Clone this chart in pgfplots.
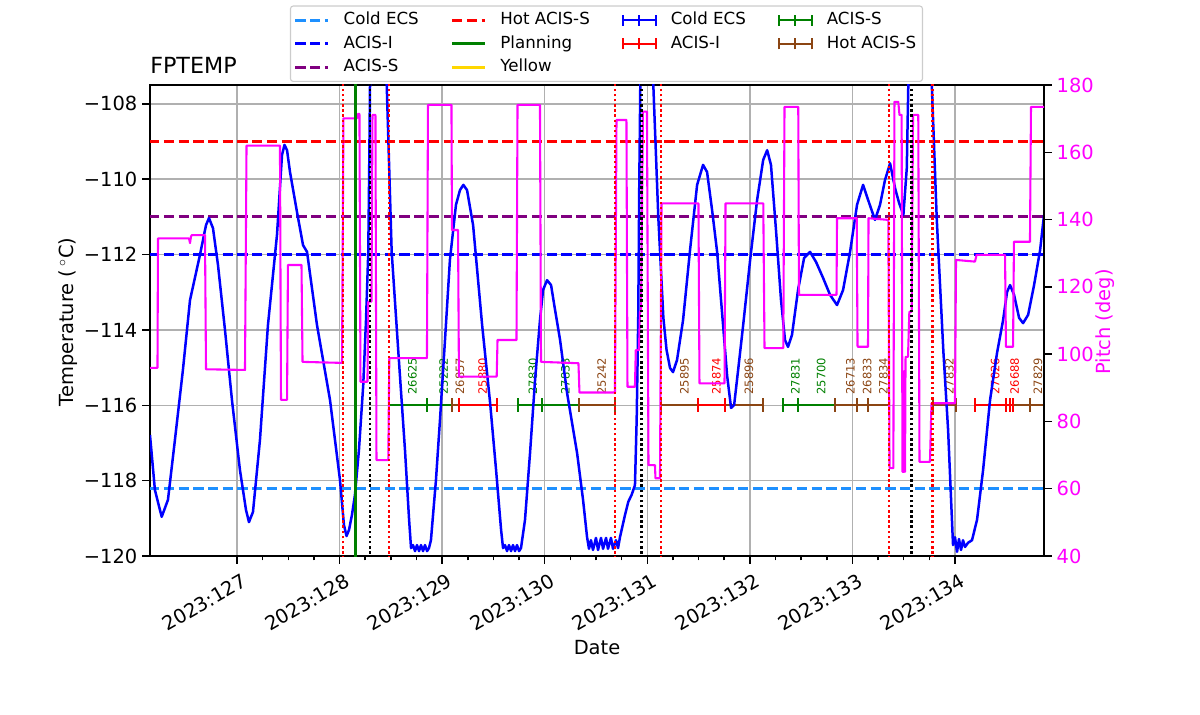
\documentclass[border=0pt]{standalone}
\usepackage{fontspec}
\setmainfont{DejaVu Sans}
\usepackage{pgfplots}
\pgfplotsset{compat=1.18}
\definecolor{dodger}{HTML}{1E90FF}
\definecolor{mplgreen}{HTML}{008000}
\definecolor{mplpurple}{HTML}{800080}
\definecolor{mplmagenta}{HTML}{FF00FF}
\definecolor{saddle}{HTML}{8B4513}
\definecolor{gold}{HTML}{FFD700}
\definecolor{gridgray}{HTML}{B0B0B0}
\definecolor{legframe}{HTML}{CCCCCC}
\pgfplotsset{
 lineleg/.style={legend image code/.code={\draw[##1] (0pt,0pt) -- (23.8pt,0pt);}},
 errleg/.style={legend image code/.code={\draw[##1] (0pt,0pt) -- (23.8pt,0pt); \draw[##1] (0pt,-4pt) -- (0pt,4pt); \draw[##1] (11.9pt,-4pt) -- (11.9pt,4pt); \draw[##1] (23.8pt,-4pt) -- (23.8pt,4pt);}},
 limdash/.style={line width=2pt, dash pattern=on 7.4pt off 3.2pt},
 vdot/.style={line width=1.8pt, dash pattern=on 1.8pt off 1.9pt},
 seg/.style={line width=1.5pt, mark=|, mark size=5pt, mark options={solid, line width=1.5pt}},
}
\tikzset{obs/.style={rotate=90, anchor=north west, inner sep=0pt, font=\fontsize{8.3}{10}\selectfont}}
\begin{document}
\begin{tikzpicture}
\path[use as bounding box] (0,0) rectangle (864pt,514.08pt);
\begin{axis}[
 name=main,
 at={(108pt,113.76pt)}, anchor=south west,
 width=643.68pt, height=339.12pt, scale only axis,
 xmin=126.152, xmax=134.868, ymin=-120, ymax=-107.5,
 xtick={127,128,129,130,131,132,133,134},
 xticklabels={2023:127,2023:128,2023:129,2023:130,2023:131,2023:132,2023:133,2023:134},
 minor x tick num=3,
 ytick={-120,-118,-116,-114,-112,-110,-108},
 yticklabels={−120,−118,−116,−114,−112,−110,−108},
 xtick pos=left, ytick pos=left,
 tick align=outside, major tick length=5.6pt, minor tick length=3.2pt,
 tick style={black, line width=1.1pt},
 axis line style={line width=1.1pt},
 grid=major, grid style={gridgray, line width=1.1pt},
 tick label style={font=\fontsize{14}{17}\selectfont},
 xticklabel style={rotate=30, anchor=north east, inner sep=2pt, xshift=1.5pt, yshift=-5pt},
 label style={font=\fontsize{14}{17}\selectfont},
 xlabel={Date}, xlabel style={at={(axis description cs:0.5,-0.195)}, anchor=center},
 ylabel={Temperature (\,$^\circ$C)}, ylabel style={at={(axis description cs:-0.0917,0.497)}, anchor=center},
 title={FPTEMP}, title style={at={(0,1)}, anchor=base west, inner sep=0pt, yshift=2.6pt, font=\fontsize{16}{19}\selectfont},
 legend columns=4,
 legend style={at={(0.5106,1.0064)}, anchor=south, draw=legframe, line width=0.8pt, rounded corners=2pt,
   font=\fontsize{12}{14}\selectfont, inner xsep=2.5pt, inner ysep=1.8pt, row sep=0pt,
   nodes={inner xsep=2pt, inner ysep=2.7pt, text height=9pt, text depth=2.5pt},
   /tikz/every odd column/.append style={column sep=8pt},
   /tikz/every even column/.append style={column sep=21pt}},
 legend cell align=left,
]
% legend (row-major order of a 4-column legend)
\addlegendimage{lineleg, dodger, limdash}\addlegendentry{Cold ECS}
\addlegendimage{lineleg, red, limdash}\addlegendentry{Hot ACIS-S}
\addlegendimage{errleg, blue, line width=1.5pt}\addlegendentry{Cold ECS}
\addlegendimage{errleg, mplgreen, line width=1.5pt}\addlegendentry{ACIS-S}
\addlegendimage{lineleg, blue, limdash}\addlegendentry{ACIS-I}
\addlegendimage{lineleg, mplgreen, line width=2pt}\addlegendentry{Planning}
\addlegendimage{errleg, red, line width=1.5pt}\addlegendentry{ACIS-I}
\addlegendimage{errleg, saddle, line width=1.5pt}\addlegendentry{Hot ACIS-S}
\addlegendimage{lineleg, mplpurple, limdash}\addlegendentry{ACIS-S}
\addlegendimage{lineleg, gold, line width=2pt}\addlegendentry{Yellow}
\addlegendimage{empty legend}\addlegendentry{}
\addlegendimage{empty legend}\addlegendentry{}

% limit lines
\addplot[forget plot, dodger, limdash] coordinates {(126,-118.2) (135,-118.2)};
\addplot[forget plot, blue, limdash] coordinates {(126,-112.0) (135,-112.0)};
\addplot[forget plot, mplpurple, limdash] coordinates {(126,-111.0) (135,-111.0)};
\addplot[forget plot, red, limdash] coordinates {(126,-109.0) (135,-109.0)};

% obsid intervals
\addplot[forget plot, mplgreen, seg, unbounded coords=jump] coordinates {
 (128.482,-116) (128.849,-116) (nan,nan)
 (128.849,-116) (129.093,-116) (nan,nan)
 (129.743,-116) (129.977,-116) (nan,nan)
 (129.977,-116) (130.337,-116) (nan,nan)
 (132.326,-116) (132.472,-116) (nan,nan)
 (132.472,-116) (132.830,-116)};
\addplot[forget plot, saddle, seg, unbounded coords=jump] coordinates {
 (129.093,-116) (129.164,-116) (nan,nan)
 (130.337,-116) (130.685,-116) (nan,nan)
 (131.134,-116) (131.497,-116) (nan,nan)
 (131.758,-116) (132.131,-116) (nan,nan)
 (132.830,-116) (133.042,-116) (nan,nan)
 (133.042,-116) (133.155,-116) (nan,nan)
 (133.155,-116) (133.357,-116) (nan,nan)
 (133.789,-116) (134.010,-116) (nan,nan)
 (134.568,-116) (134.731,-116) (nan,nan)
 (134.731,-116) (134.926,-116)};
\addplot[forget plot, red, seg, unbounded coords=jump] coordinates {
 (129.164,-116) (129.537,-116) (nan,nan)
 (131.497,-116) (131.758,-116) (nan,nan)
 (134.195,-116) (134.497,-116) (nan,nan)
 (134.497,-116) (134.536,-116) (nan,nan)
 (134.536,-116) (134.568,-116)};

\node[obs, mplgreen] at (axis cs:128.666,-115.72) {26625};
\node[obs, mplgreen] at (axis cs:128.971,-115.72) {25222};
\node[obs, saddle] at (axis cs:129.129,-115.72) {26857};
\node[obs, red] at (axis cs:129.351,-115.72) {25880};
\node[obs, mplgreen] at (axis cs:129.840,-115.72) {27830};
\node[obs, mplgreen] at (axis cs:130.157,-115.72) {27833};
\node[obs, saddle] at (axis cs:130.511,-115.72) {25242};
\node[obs, saddle] at (axis cs:131.316,-115.72) {25895};
\node[obs, red] at (axis cs:131.628,-115.72) {25874};
\node[obs, saddle] at (axis cs:131.945,-115.72) {25896};
\node[obs, mplgreen] at (axis cs:132.399,-115.72) {27831};
\node[obs, mplgreen] at (axis cs:132.651,-115.72) {25700};
\node[obs, saddle] at (axis cs:132.936,-115.72) {26713};
\node[obs, saddle] at (axis cs:133.099,-115.72) {26833};
\node[obs, saddle] at (axis cs:133.256,-115.72) {27834};
\node[obs, saddle] at (axis cs:133.900,-115.72) {27832};
\node[obs, red] at (axis cs:134.346,-115.72) {27026};
\node[obs, red] at (axis cs:134.536,-115.72) {26688};
\node[obs, saddle] at (axis cs:134.763,-115.72) {27829};

% temperature
\addplot[forget plot, blue, line width=1.8pt, line join=round] coordinates {
(126.152,-116.79) (126.200,-118.25) (126.266,-118.96) (126.327,-118.51) (126.395,-116.92)
(126.473,-115.06) (126.542,-113.21) (126.639,-112.01) (126.698,-111.22) (126.727,-111.03)
(126.766,-111.30) (126.815,-112.28) (126.883,-114.00) (126.951,-115.86) (127.029,-117.72)
(127.088,-118.78) (127.117,-119.10) (127.156,-118.83) (127.224,-116.92) (127.302,-113.87)
(127.390,-111.48) (127.439,-109.36) (127.463,-109.09) (127.488,-109.23) (127.517,-109.81)
(127.585,-110.87) (127.644,-111.75) (127.683,-111.93) (127.780,-113.87) (127.907,-115.86)
(128.004,-117.98) (128.043,-119.18) (128.068,-119.47) (128.092,-119.31) (128.121,-118.91)
(128.150,-118.38) (128.189,-117.19) (128.231,-115.46) (128.258,-113.74) (128.280,-111.93)
(128.290,-109.49) (128.297,-107.5) (128.307,-106.8) (128.443,-106.8) (128.460,-107.5)
(128.508,-111.92) (128.573,-114.58) (128.638,-117.19) (128.678,-119.04) (128.697,-119.79)
(128.716,-119.71) (128.736,-119.87) (128.755,-119.71) (128.775,-119.87) (128.794,-119.71)
(128.814,-119.87) (128.833,-119.71) (128.853,-119.87) (128.872,-119.79)
(128.891,-119.58) (128.940,-117.98) (128.979,-116.39) (129.028,-114.27) (129.076,-112.14)
(129.135,-110.68) (129.174,-110.29) (129.207,-110.15) (129.243,-110.29) (129.302,-111.22)
(129.390,-113.87) (129.468,-115.94) (129.526,-117.72) (129.575,-119.31) (129.594,-119.79)
(129.613,-119.71) (129.633,-119.87) (129.652,-119.71) (129.672,-119.87) (129.691,-119.71)
(129.711,-119.87) (129.730,-119.71) (129.750,-119.87) (129.769,-119.79)
(129.808,-119.04) (129.857,-117.27) (129.906,-115.33) (129.954,-113.74) (129.984,-112.94)
(130.023,-112.68) (130.062,-112.81) (130.101,-113.47) (130.150,-114.27) (130.218,-115.67)
(130.316,-117.27) (130.374,-118.51) (130.413,-119.50)
(130.432,-119.81) (130.451,-119.58) (130.471,-119.84) (130.500,-119.52) (130.520,-119.84)
(130.549,-119.52) (130.569,-119.81) (130.598,-119.52) (130.617,-119.81) (130.646,-119.52)
(130.666,-119.81) (130.695,-119.58) (130.715,-119.79) (130.734,-119.50)
(130.783,-118.91) (130.815,-118.56) (130.847,-118.38) (130.880,-118.12) (130.897,-116.34)
(130.912,-113.68) (130.922,-110.15) (130.932,-107.5) (130.939,-106.8) (131.036,-106.8)
(131.059,-107.5) (131.108,-111.03) (131.157,-113.68) (131.188,-114.53) (131.222,-115.01)
(131.251,-115.12) (131.290,-114.80) (131.349,-113.74) (131.417,-111.88) (131.486,-110.15)
(131.544,-109.62) (131.583,-109.81) (131.632,-110.82) (131.681,-111.93) (131.739,-113.87)
(131.778,-115.20) (131.817,-116.07) (131.847,-115.99) (131.886,-115.06) (131.935,-113.87)
(132.003,-112.14) (132.071,-110.55) (132.130,-109.49) (132.169,-109.23) (132.206,-109.62)
(132.255,-111.35) (132.304,-113.21) (132.343,-114.27) (132.372,-114.45) (132.411,-114.13)
(132.470,-112.94) (132.529,-112.09) (132.587,-111.93) (132.646,-112.20) (132.714,-112.62)
(132.782,-113.07) (132.850,-113.34) (132.909,-112.94) (132.977,-111.93) (133.045,-110.68)
(133.104,-110.15) (133.153,-110.55) (133.220,-111.08) (133.269,-110.68) (133.318,-110.02)
(133.367,-109.58) (133.416,-110.24) (133.455,-110.63) (133.497,-110.95) (133.530,-109.71)
(133.545,-107.5) (133.552,-106.8) (133.757,-106.8) (133.774,-107.5) (133.822,-111.04)
(133.887,-114.58) (133.933,-116.66) (133.962,-118.51) (133.981,-119.71)
(134.000,-119.50) (134.020,-119.89) (134.039,-119.55) (134.059,-119.84) (134.078,-119.58)
(134.098,-119.76) (134.127,-119.65)
(134.166,-119.58) (134.215,-119.04) (134.274,-117.72) (134.342,-115.86) (134.410,-114.61)
(134.469,-113.74) (134.508,-112.99) (134.537,-112.81) (134.576,-113.07) (134.625,-113.68)
(134.664,-113.82) (134.713,-113.60) (134.771,-112.81) (134.830,-111.88) (134.868,-110.95)
};
\end{axis}

\begin{axis}[
 at={(108pt,113.76pt)}, anchor=south west,
 width=643.68pt, height=339.12pt, scale only axis,
 xmin=126.152, xmax=134.868, ymin=40, ymax=180,
 axis x line=none, axis y line*=right,
 ytick={40,60,80,100,120,140,160,180},
 yticklabels={40,60,80,100,120,140,160,180},
 tick align=outside, major tick length=5.6pt,
 tick style={black, line width=1.1pt},
 axis line style={line width=1.1pt},
 yticklabel style={mplmagenta, font=\fontsize{14}{17}\selectfont},
 ylabel={Pitch (deg)},
 ylabel style={mplmagenta, font=\fontsize{14}{17}\selectfont, at={(axis description cs:1.068,0.497)}, anchor=center},
]
\addplot[mplmagenta, line width=1.5pt, line join=round] coordinates {
(126.152,95.9) (126.225,95.9) (126.230,134.4) (126.532,134.4) (126.542,133.0) (126.552,135.0)
(126.561,135.4) (126.688,135.4) (126.698,95.5) (127.078,95.3) (127.093,162.0) (127.419,162.0)
(127.429,86.4) (127.488,86.4) (127.497,126.5) (127.629,126.5) (127.639,97.7) (128.024,97.4)
(128.038,170.1) (128.170,170.1) (128.180,171.4) (128.194,171.4) (128.204,91.8) (128.272,91.8)
(128.280,115.6) (128.311,115.6) (128.321,171.1) (128.350,171.1) (128.360,68.5) (128.475,68.5)
(128.485,98.8) (128.852,98.8) (128.862,174.1) (129.091,174.1) (129.096,136.9) (129.155,136.9)
(129.164,93.3) (129.532,93.3) (129.540,104.2) (129.725,104.2) (129.735,174.1) (129.954,174.1)
(129.964,97.7) (130.329,97.3) (130.339,88.6) (130.685,88.6) (130.700,169.6) (130.797,169.6)
(130.807,90.3) (130.880,90.3) (130.888,101.2) (130.919,101.2) (130.929,112.6) (130.939,112.6)
(130.958,172.1) (130.997,172.1) (131.012,67.0) (131.075,67.0) (131.080,63.1) (131.124,63.1)
(131.139,144.8) (131.499,144.8) (131.509,91.3) (131.753,91.3) (131.763,144.8) (132.131,144.8)
(132.143,101.8) (132.326,101.8) (132.338,173.5) (132.472,173.5) (132.479,117.6) (132.845,117.6)
(132.850,140.4) (133.042,140.4) (133.050,102.2) (133.152,102.2) (133.157,140.4) (133.350,139.9)
(133.362,66.1) (133.399,66.1) (133.410,175.0) (133.447,175.0) (133.459,171.1) (133.480,171.1)
(133.488,65.0) (133.503,65.0) (133.508,95.0) (133.513,65.0) (133.518,99.2) (133.542,99.2)
(133.555,112.6) (133.578,112.6) (133.591,171.1) (133.642,171.1) (133.654,68.0) (133.756,68.0)
(133.771,85.4) (134.000,85.4) (134.010,128.0) (134.195,127.5) (134.210,129.5) (134.488,129.5)
(134.497,102.2) (134.566,102.2) (134.575,133.4) (134.731,133.4) (134.741,173.5) (134.868,173.5)
};
% planning and event markers
\addplot[mplgreen, line width=2pt] coordinates {(128.157,30) (128.157,190)};
\addplot[red, vdot] coordinates {(128.036,30) (128.036,190)};
\addplot[red, vdot] coordinates {(128.482,30) (128.482,190)};
\addplot[red, vdot] coordinates {(130.685,30) (130.685,190)};
\addplot[red, vdot] coordinates {(131.134,30) (131.134,190)};
\addplot[red, vdot] coordinates {(133.357,30) (133.357,190)};
\addplot[red, vdot] coordinates {(133.779,30) (133.779,190)};
\addplot[black, vdot] coordinates {(128.297,30) (128.297,190)};
\addplot[black, vdot] coordinates {(130.946,30) (130.946,190)};
\addplot[black, vdot] coordinates {(133.578,30) (133.578,190)};
\end{axis}
\end{tikzpicture}
\end{document}
